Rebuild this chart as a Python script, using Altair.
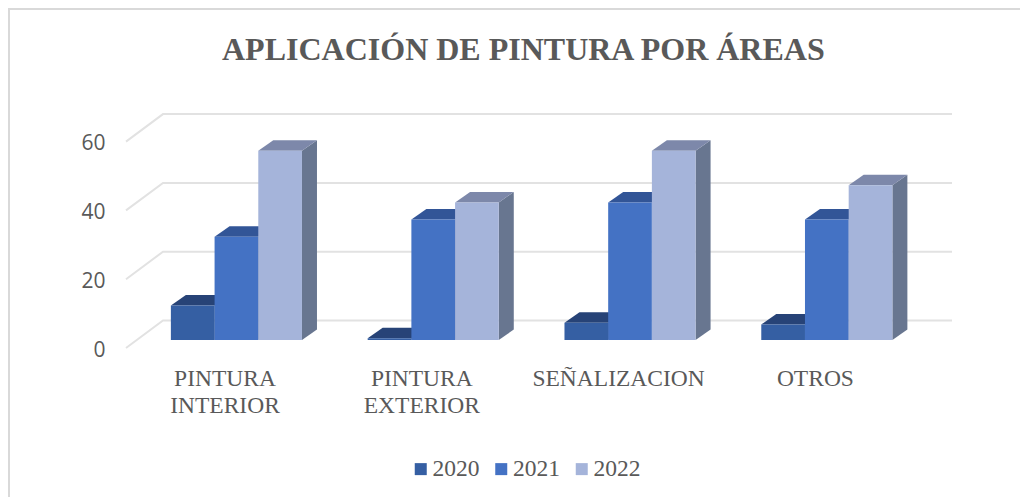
import altair as alt
import pandas as pd

categories = ["PINTURA|INTERIOR", "PINTURA|EXTERIOR", "SEÑALIZACION", "OTROS"]
years = ["2020", "2021", "2022"]
v2020 = [10, 0.5, 5, 4.5]
v2021 = [30, 35, 40, 35]
v2022 = [55, 40, 55, 45]
series = [v2020, v2021, v2022]
front_colors = ["#355fa3", "#4472c4", "#a5b4da"]
top_colors = ["#274377", "#325597", "#7d88aa"]
side_colors = ["#27406f", "#30528f", "#687690"]
ticks = [0, 20, 40, 60]

# Layout of the pseudo-3D drawing, in data units
PX_X = 196.8   # px per category
PX_Y = 3.44    # px per value unit
BAR_W = 43.7 / PX_X
BAR_DX = 15 / PX_X
BAR_DY = 10.5 / PX_Y
BASE = 8 / PX_Y           # bars stand a little behind the front of the floor
WALL_DX = 37 / PX_X
WALL_DY = 27.5 / PX_Y
GROUP_LEFT = -0.275       # first bar's left edge relative to category centre
GRID_X0 = (126 - 225) / PX_X
GRID_X1 = (952 - 225) / PX_X

W, H = 1011, 488
x_domain = [(9 - 225) / PX_X, (9 + W - 225) / PX_X]
y_domain = [(348 - (9 + H)) / PX_Y, (348 - 9) / PX_Y]
xs = alt.Scale(domain=x_domain, nice=False, zero=False)
ys = alt.Scale(domain=y_domain, nice=False, zero=False)

labels_js = "[" + ",".join(f"'{c}'" for c in categories) + "]"
x_axis = alt.Axis(
    values=list(range(len(categories))), title=None, domain=False, ticks=False, grid=False,
    labelExpr=f"split({labels_js}[datum.value], '|')",
    labelFont="Liberation Serif", labelFontSize=23.5, labelColor="#595959",
    labelLineHeight=27, labelBaseline="top", labelPadding=0, labelOverlap=False,
    labelFlush=False, labelBound=False, labelOffset=-0.5, offset=-(9 + H - 366),
)
y_axis = alt.Axis(
    values=ticks, title=None, domain=False, ticks=False, grid=False,
    labelFont="Open Sans", labelFontSize=21, labelColor="#595959", labelPadding=0,
    labelOverlap=False, labelFlush=False, labelBound=False, labelOffset=2, offset=-96,
)
X = alt.X("x:Q", scale=xs, axis=x_axis)
Y = alt.Y("y:Q", scale=ys, axis=y_axis)

frame_rows = [
    {"x": x_domain[0], "y": y_domain[0], "k": 0},
    {"x": x_domain[0], "y": y_domain[1], "k": 1},
    {"x": x_domain[1], "y": y_domain[1], "k": 2},
]
frame = alt.Chart(pd.DataFrame(frame_rows)).mark_line(color="#d9d9d9", strokeWidth=2).encode(
    x=X, y=Y, order="k:Q",
)

grid_rows = []
for t in ticks:
    for k, (gx, gy) in enumerate([(GRID_X0, t), (GRID_X0 + WALL_DX, t + WALL_DY), (GRID_X1, t + WALL_DY)]):
        grid_rows.append({"x": gx, "y": gy, "t": t, "k": k})
grid = alt.Chart(pd.DataFrame(grid_rows)).mark_line(color="#e2e2e2", strokeWidth=2).encode(
    x=X, y=Y, detail="t:N", order="k:Q",
)

layers = [frame, grid]
for s, (year, vals) in enumerate(zip(years, series)):
    side_rows, top_rows, front_rows = [], [], []
    for i, v in enumerate(vals):
        left = i + GROUP_LEFT + s * BAR_W
        right = left + BAR_W
        front_rows.append({"x": left, "x2": right, "y": BASE, "y2": BASE + v, "year": year})
        side_rows += [
            {"x": right, "y": BASE, "y2": BASE + v, "g": i},
            {"x": right + BAR_DX, "y": BASE + BAR_DY, "y2": BASE + v + BAR_DY, "g": i},
        ]
        top = BASE + v
        top_rows += [
            {"x": left, "y": top, "y2": top, "g": i},
            {"x": left + BAR_DX, "y": top, "y2": top + BAR_DY, "g": i},
            {"x": right, "y": top, "y2": top + BAR_DY, "g": i},
            {"x": right + BAR_DX, "y": top + BAR_DY, "y2": top + BAR_DY, "g": i},
        ]
    for rows, col in ((side_rows, side_colors[s]), (top_rows, top_colors[s])):
        layers.append(
            alt.Chart(pd.DataFrame(rows)).mark_area(color=col, opacity=1, interpolate="linear").encode(
                x=X, y=Y, y2="y2:Q", detail="g:N",
            )
        )
    layers.append(
        alt.Chart(pd.DataFrame(front_rows)).mark_bar(opacity=1).encode(
            x=X, x2="x2:Q", y=Y, y2="y2:Q",
            color=alt.Color(
                "year:N",
                scale=alt.Scale(domain=years, range=front_colors),
                legend=alt.Legend(
                    title=None, orient="none", legendX=400, legendY=448, direction="horizontal",
                    columns=3, columnPadding=9.5, symbolType="square", symbolSize=144,
                    symbolStrokeWidth=0, labelFont="Liberation Serif", labelFontSize=23.5,
                    labelColor="#595959", labelOffset=0,
                ),
            ),
        )
    )

chart = alt.layer(*layers).resolve_axis(x="shared", y="shared").properties(
    width=W, height=H, padding=1,
    autosize=alt.AutoSizeParams(type="none"),
    background="white",
    title=alt.TitleParams(
        "APLICACIÓN DE PINTURA POR ÁREAS", font="Liberation Serif", fontSize=32,
        fontWeight="bold", color="#595959", anchor="start", offset=-62, dx=217,
    ),
).configure_view(stroke=None)

chart.save("out.html", embed_options={"renderer": "svg", "actions": False})
